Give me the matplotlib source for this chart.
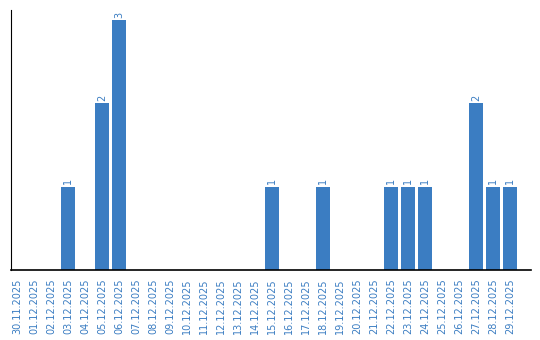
import matplotlib
matplotlib.use('Agg')
import matplotlib.pyplot as plt

# Даты и количество
dates = ['30.11.2025', '01.12.2025', '02.12.2025', '03.12.2025', '04.12.2025',
         '05.12.2025', '06.12.2025', '07.12.2025', '08.12.2025', '09.12.2025',
         '10.12.2025', '11.12.2025', '12.12.2025', '13.12.2025', '14.12.2025',
         '15.12.2025', '16.12.2025', '17.12.2025', '18.12.2025', '19.12.2025',
         '20.12.2025', '21.12.2025', '22.12.2025', '23.12.2025', '24.12.2025',
         '25.12.2025', '26.12.2025', '27.12.2025', '28.12.2025', '29.12.2025']
counts = [0, 0, 0, 1, 0, 2, 3, 0, 0, 0,
          0, 0, 0, 0, 0, 1, 0, 0, 1, 0,
          0, 0, 1, 1, 1, 0, 0, 2, 1, 1]

blue = '#3b7dc2'

fig = plt.figure(figsize=(5.4, 3.4), dpi=100)
ax = fig.add_axes([10.5 / 540, 70 / 340, 520 / 540, 260 / 340])

x = list(range(len(dates)))
ax.bar(x, counts, width=0.82, color=blue)

for i, c in enumerate(counts):
    if c > 0:
        ax.text(i, c + 0.03, str(c), rotation=90, ha='center', va='bottom',
                color=blue, fontsize=7)

ax.set_xlim(-0.38, 30.2)
ax.set_ylim(0, 3.12)
ax.set_xticks(x)
ax.set_xticklabels(dates, rotation=90, color=blue, fontsize=7)
ax.tick_params(axis='x', length=0, pad=6)
ax.set_yticks([])

ax.spines['top'].set_visible(False)
ax.spines['right'].set_visible(False)
ax.spines['left'].set_color('black')
ax.spines['bottom'].set_color('black')
ax.spines['bottom'].set_linewidth(1.2)

plt.savefig('out.png', format='png')
